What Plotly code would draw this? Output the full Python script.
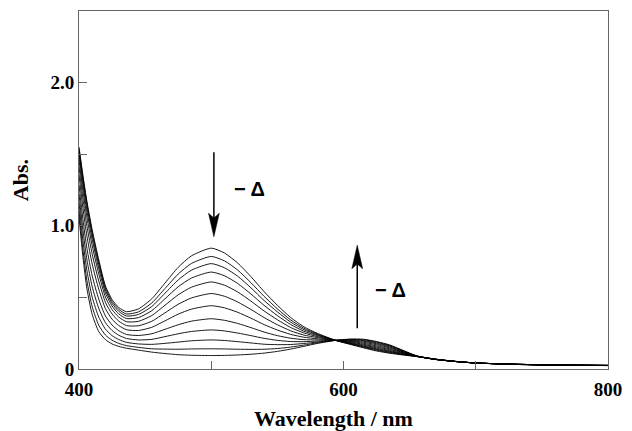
import plotly.graph_objects as go

# Wavelength grid (nm)
wavelength = [400, 403, 406, 410, 415, 420, 425, 430, 436, 445, 455, 465, 475, 485, 500,
              510, 520, 530, 540, 550, 560, 570, 580, 594, 605, 615, 625, 635, 645, 656,
              670, 685, 700, 730, 760, 800]

# Absorbance spectra (first = before, last = after heating)
abs_01 = [1.55, 1.35, 1.17, 0.97, 0.76, 0.58, 0.485, 0.43, 0.40, 0.42, 0.49, 0.60, 0.71, 0.79, 0.844,
          0.81, 0.74, 0.645, 0.54, 0.445, 0.36, 0.295, 0.25, 0.20, 0.172, 0.148, 0.126, 0.110, 0.098, 0.086,
          0.066, 0.052, 0.042, 0.033, 0.028, 0.025]
abs_02 = [1.538, 1.336, 1.155, 0.955, 0.746, 0.568, 0.472, 0.417, 0.384, 0.399, 0.461, 0.562, 0.663, 0.737, 0.786,
          0.755, 0.691, 0.603, 0.507, 0.420, 0.343, 0.285, 0.245, 0.200, 0.175, 0.153, 0.131, 0.114, 0.100, 0.086,
          0.066, 0.052, 0.042, 0.033, 0.028, 0.025]
abs_03 = [1.521, 1.316, 1.133, 0.934, 0.727, 0.552, 0.458, 0.403, 0.370, 0.381, 0.436, 0.529, 0.622, 0.690, 0.736,
          0.707, 0.648, 0.567, 0.478, 0.399, 0.328, 0.275, 0.240, 0.200, 0.177, 0.157, 0.136, 0.118, 0.103, 0.087,
          0.066, 0.052, 0.042, 0.033, 0.028, 0.025]
abs_04 = [1.496, 1.287, 1.102, 0.903, 0.700, 0.531, 0.440, 0.385, 0.352, 0.359, 0.407, 0.490, 0.574, 0.635, 0.677,
          0.651, 0.597, 0.524, 0.444, 0.373, 0.311, 0.264, 0.234, 0.200, 0.180, 0.161, 0.141, 0.123, 0.105, 0.087,
          0.067, 0.052, 0.042, 0.033, 0.028, 0.025]
abs_05 = [1.460, 1.245, 1.057, 0.859, 0.663, 0.502, 0.415, 0.363, 0.330, 0.333, 0.373, 0.445, 0.518, 0.571, 0.608,
          0.585, 0.538, 0.474, 0.405, 0.344, 0.290, 0.252, 0.227, 0.200, 0.184, 0.167, 0.147, 0.128, 0.108, 0.087,
          0.067, 0.052, 0.042, 0.033, 0.028, 0.025]
abs_06 = [1.412, 1.189, 0.997, 0.801, 0.613, 0.465, 0.384, 0.335, 0.303, 0.302, 0.333, 0.392, 0.452, 0.496, 0.527,
          0.508, 0.468, 0.416, 0.359, 0.309, 0.267, 0.237, 0.220, 0.200, 0.188, 0.173, 0.154, 0.135, 0.112, 0.088,
          0.067, 0.052, 0.042, 0.033, 0.028, 0.025]
abs_07 = [1.355, 1.122, 0.926, 0.732, 0.555, 0.421, 0.348, 0.304, 0.274, 0.269, 0.291, 0.336, 0.383, 0.418, 0.442,
          0.427, 0.396, 0.355, 0.310, 0.272, 0.242, 0.222, 0.211, 0.200, 0.192, 0.180, 0.161, 0.141, 0.115, 0.088,
          0.067, 0.052, 0.042, 0.033, 0.028, 0.025]
abs_08 = [1.286, 1.043, 0.841, 0.650, 0.486, 0.370, 0.307, 0.268, 0.241, 0.234, 0.246, 0.277, 0.309, 0.334, 0.351,
          0.340, 0.318, 0.289, 0.258, 0.233, 0.215, 0.205, 0.203, 0.200, 0.196, 0.187, 0.169, 0.148, 0.119, 0.089,
          0.067, 0.052, 0.042, 0.033, 0.028, 0.025]
abs_09 = [1.222, 0.969, 0.762, 0.574, 0.422, 0.323, 0.269, 0.236, 0.213, 0.203, 0.207, 0.226, 0.246, 0.262, 0.273,
          0.266, 0.251, 0.233, 0.214, 0.200, 0.192, 0.191, 0.195, 0.200, 0.200, 0.194, 0.176, 0.154, 0.122, 0.089,
          0.068, 0.053, 0.042, 0.032, 0.027, 0.024]
abs_10 = [1.161, 0.898, 0.686, 0.501, 0.361, 0.278, 0.233, 0.206, 0.186, 0.175, 0.172, 0.179, 0.188, 0.197, 0.203,
          0.199, 0.191, 0.182, 0.173, 0.170, 0.171, 0.178, 0.188, 0.200, 0.204, 0.199, 0.182, 0.160, 0.125, 0.089,
          0.068, 0.053, 0.042, 0.032, 0.027, 0.024]
abs_11 = [1.105, 0.832, 0.616, 0.434, 0.305, 0.237, 0.201, 0.179, 0.163, 0.151, 0.141, 0.139, 0.138, 0.140, 0.141,
          0.140, 0.138, 0.137, 0.138, 0.143, 0.153, 0.167, 0.183, 0.200, 0.207, 0.204, 0.188, 0.164, 0.128, 0.090,
          0.068, 0.053, 0.042, 0.032, 0.027, 0.024]
abs_12 = [1.06, 0.78, 0.56, 0.38, 0.26, 0.205, 0.175, 0.158, 0.145, 0.132, 0.118, 0.108, 0.100, 0.096, 0.094,
          0.095, 0.098, 0.103, 0.111, 0.123, 0.139, 0.158, 0.178, 0.200, 0.209, 0.208, 0.192, 0.168, 0.130, 0.090,
          0.068, 0.053, 0.042, 0.032, 0.027, 0.024]

spectra = [abs_01, abs_02, abs_03, abs_04, abs_05, abs_06,
           abs_07, abs_08, abs_09, abs_10, abs_11, abs_12]

x_tickvals = [400, 500, 600, 700, 800]
x_ticktext = ["400", "", "600", "", "800"]
y_tickvals = [0, 0.5, 1.0, 1.5, 2.0]
y_ticktext = ["0", "", "1.0", "", "2.0"]

x_title = "Wavelength / nm"
y_title = "Abs."
arrow_label = "\u2212 \u0394"

# arrow annotations (data coords)
arrow1_x, arrow1_top, arrow1_tip = 502, 1.513, 0.923
arrow2_x, arrow2_bottom, arrow2_tip = 610.4, 0.285, 0.865
head_len, head_half = 0.165, 4.1

fig = go.Figure()
for s in spectra:
    fig.add_trace(go.Scatter(
        x=wavelength, y=s, mode="lines",
        line=dict(color="black", width=0.9, shape="spline", smoothing=0.6),
        showlegend=False, hoverinfo="skip"))

axis_common = dict(
    showgrid=False, zeroline=False, showline=True, linecolor="#666666", linewidth=1,
    mirror=True, ticks="inside", ticklen=8, tickcolor="#666666", tickwidth=1,
    tickfont=dict(family="Liberation Serif", size=19, color="black", weight="bold"),
)

fig.update_layout(
    width=632, height=431,
    margin=dict(l=79, r=16, t=10, b=62),
    paper_bgcolor="white", plot_bgcolor="white",
    xaxis=dict(range=[400, 800], tickvals=x_tickvals, ticktext=x_ticktext,
               ticklabelstandoff=3, **axis_common),
    yaxis=dict(range=[0, 2.5], tickvals=y_tickvals, ticktext=y_ticktext, **axis_common),
)

title_font = dict(family="Liberation Serif", size=22, color="black", weight="bold")
fig.add_annotation(text=x_title, xref="paper", yref="paper", x=0.482, y=-0.138,
                   xanchor="center", yanchor="middle", showarrow=False, font=title_font)
fig.add_annotation(text=y_title, xref="paper", yref="paper", x=-0.110, y=0.527,
                   xanchor="center", yanchor="middle", showarrow=False, font=title_font,
                   textangle=-90)

label_font = dict(family="Liberation Sans", size=20, color="black", weight="bold")
fig.add_annotation(text=arrow_label, x=528.6, y=1.255, showarrow=False, font=label_font,
                   xanchor="center", yanchor="middle")
fig.add_annotation(text=arrow_label, x=635.9, y=0.552, showarrow=False, font=label_font,
                   xanchor="center", yanchor="middle")

# down arrow
fig.add_shape(type="line", x0=arrow1_x, x1=arrow1_x, y0=arrow1_top, y1=arrow1_tip + head_len * 0.6,
              line=dict(color="black", width=1.5))
fig.add_shape(type="path",
              path=f"M {arrow1_x},{arrow1_tip} L {arrow1_x - head_half},{arrow1_tip + head_len} "
                   f"L {arrow1_x},{arrow1_tip + head_len * 0.8} L {arrow1_x + head_half},{arrow1_tip + head_len} Z",
              fillcolor="black", line=dict(color="black", width=0.5))
# up arrow
fig.add_shape(type="line", x0=arrow2_x, x1=arrow2_x, y0=arrow2_bottom, y1=arrow2_tip - head_len * 0.6,
              line=dict(color="black", width=1.5))
fig.add_shape(type="path",
              path=f"M {arrow2_x},{arrow2_tip} L {arrow2_x - head_half},{arrow2_tip - head_len} "
                   f"L {arrow2_x},{arrow2_tip - head_len * 0.8} L {arrow2_x + head_half},{arrow2_tip - head_len} Z",
              fillcolor="black", line=dict(color="black", width=0.5))

fig.write_html("out.html", config={"displayModeBar": False},
               post_script="document.body.style.margin='0';")
